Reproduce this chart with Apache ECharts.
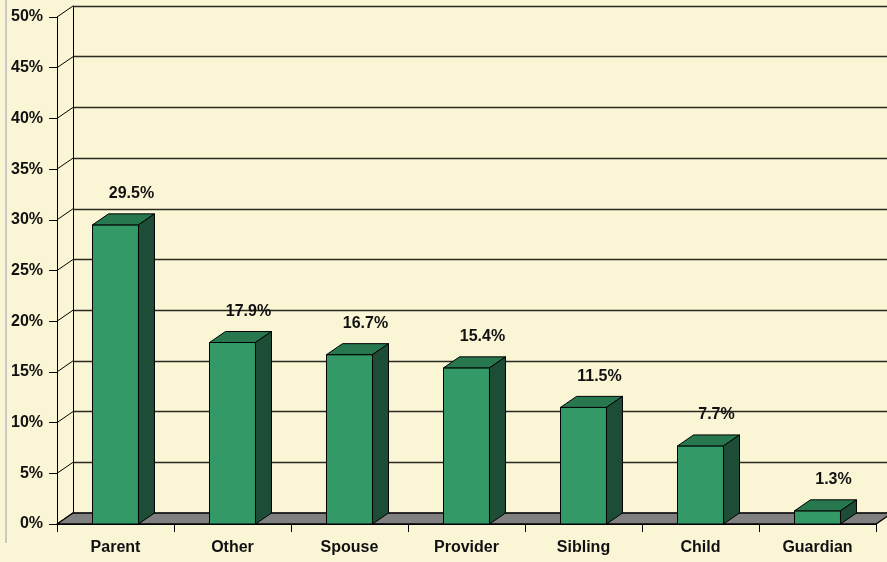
<!DOCTYPE html>
<html><head><meta charset="utf-8">
<script src="https://cdn.jsdelivr.net/npm/echarts@6/dist/echarts.min.js"></script>
<style>html,body{margin:0;padding:0;background:#FAF5D5}#c{width:887px;height:562px}</style>
</head><body><div id="c"></div>
<script>
const categories = ['Parent','Other','Spouse','Provider','Sibling','Child','Guardian'];
const values = [29.5, 17.9, 16.7, 15.4, 11.5, 7.7, 1.3];
const valueLabels = ['29.5%','17.9%','16.7%','15.4%','11.5%','7.7%','1.3%'];
const yTicks = [0, 5, 10, 15, 20, 25, 30, 35, 40, 45, 50];

const DX = 16, DY = -11;
const FONT = 'bold 16px "Liberation Sans", Arial, sans-serif';

const chart = echarts.init(document.getElementById('c'), null, {renderer: 'canvas'});

const barData = values.map((v, i) => [i, v]);
const tickData = yTicks.map(t => [0, t]);

chart.setOption({
  animation: false,
  backgroundColor: '#FAF5D5',
  graphic: [{
    type: 'line', shape: {x1: 6, y1: 0, x2: 6, y2: 543},
    style: {stroke: '#C9C9C9', lineWidth: 2}, z: 0
  }],
  grid: [
    {left: 57, top: 17, width: 819, height: 507},
    {left: 73, top: 6, width: 819, height: 507}
  ],
  xAxis: [
    {type: 'category', gridIndex: 0, data: categories,
     axisLine: {show: true, lineStyle: {color: '#000', width: 1}},
     axisTick: {show: true, length: 8, lineStyle: {color: '#000'}},
     axisLabel: {margin: 16, color: '#111', fontWeight: 'bold', fontSize: 16, fontFamily: '"Liberation Sans", Arial, sans-serif'},
     splitLine: {show: false}},
    {type: 'category', gridIndex: 1, data: categories, show: false}
  ],
  yAxis: [
    {type: 'value', gridIndex: 0, min: 0, max: 50, interval: 5,
     axisLine: {show: true, lineStyle: {color: '#000', width: 1}},
     axisTick: {show: true, length: 8, lineStyle: {color: '#000'}},
     axisLabel: {formatter: '{value}%', margin: 14, color: '#111', fontWeight: 'bold', fontSize: 16, fontFamily: '"Liberation Sans", Arial, sans-serif'},
     splitLine: {show: false}},
    {type: 'value', gridIndex: 1, min: 0, max: 50, interval: 5,
     axisLine: {show: true, lineStyle: {color: '#000', width: 1}},
     axisTick: {show: false}, axisLabel: {show: false},
     splitLine: {show: true, lineStyle: {color: '#2a2a22', width: 1.4}}}
  ],
  series: [
    {
      type: 'custom', xAxisIndex: 0, yAxisIndex: 0, z: 1, clip: false,
      data: tickData,
      renderItem(params, api) {
        const p = api.coord([api.value(0), api.value(1)]);
        const band = api.size([1, 0])[0];
        const xl = p[0] - band / 2;
        return {type: 'line', shape: {x1: xl, y1: p[1], x2: xl + DX, y2: p[1] + DY},
                style: {stroke: '#000', lineWidth: 1}};
      }
    },
    {
      type: 'custom', xAxisIndex: 0, yAxisIndex: 0, z: 2, clip: false,
      data: [[0, 0]],
      renderItem(params, api) {
        const band = api.size([1, 0])[0];
        const a = api.coord([0, 0]);
        const b = api.coord([categories.length - 1, 0]);
        const l = a[0] - band / 2, r = b[0] + band / 2, y = a[1];
        return {type: 'polygon',
                shape: {points: [[l, y], [r, y], [r + DX, y + DY], [l + DX, y + DY]]},
                style: {fill: '#808080', stroke: '#000', lineWidth: 1.3}};
      }
    },
    {
      type: 'custom', xAxisIndex: 0, yAxisIndex: 0, z: 3, clip: false,
      data: barData,
      renderItem(params, api) {
        const i = api.value(0), v = api.value(1);
        const c0 = api.coord([i, 0]), c1 = api.coord([i, v]);
        const bw = api.size([1, 0])[0] * 0.393;
        const x0 = c0[0] - bw / 2, x1 = c0[0] + bw / 2, yb = c0[1], yt = c1[1];
        return {type: 'group', children: [
          {type: 'polygon', shape: {points: [[x0, yb], [x1, yb], [x1, yt], [x0, yt]]},
           style: {fill: '#339966', stroke: '#000', lineWidth: 1}},
          {type: 'polygon', shape: {points: [[x0, yt], [x1, yt], [x1 + DX, yt + DY], [x0 + DX, yt + DY]]},
           style: {fill: '#27784F', stroke: '#000', lineWidth: 1}},
          {type: 'polygon', shape: {points: [[x1, yb], [x1 + DX, yb + DY], [x1 + DX, yt + DY], [x1, yt]]},
           style: {fill: '#1E4D37', stroke: '#000', lineWidth: 1}},
          {type: 'text', style: {text: valueLabels[i], x: (x0 + x1) / 2 + DX, y: yt + DY - 20,
           align: 'center', verticalAlign: 'middle', font: FONT, fill: '#111'}}
        ]};
      }
    }
  ]
});
</script>
</body></html>
